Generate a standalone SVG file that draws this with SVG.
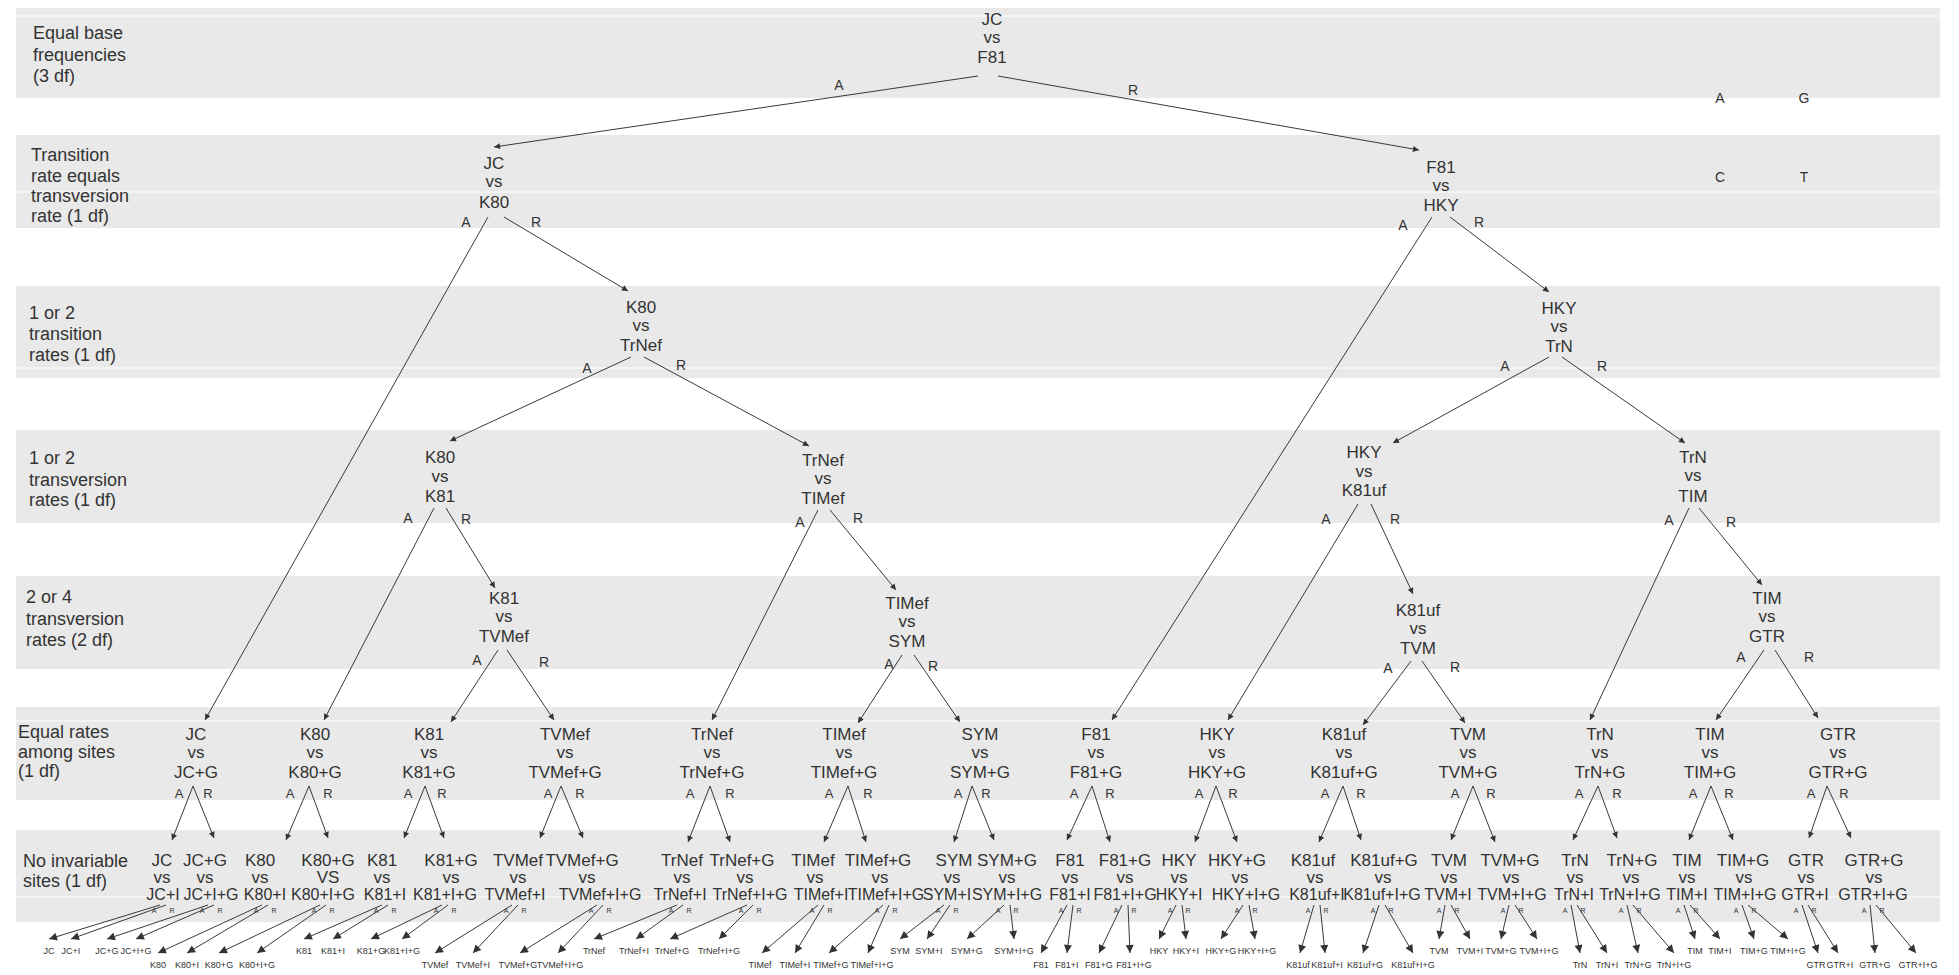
<svg xmlns="http://www.w3.org/2000/svg" width="1959" height="975" viewBox="0 0 1959 975">
<style>
text{font-family:"Liberation Sans",Arial,Helvetica,sans-serif;fill:#333}
.n{font-size:17px;text-anchor:middle}
.t{font-size:16px;text-anchor:middle}
.b{font-size:18px}
.e{font-size:14px;text-anchor:middle}
.e6{font-size:13px;text-anchor:middle}
.e7{font-size:7px;text-anchor:middle}
.f{font-size:9px;text-anchor:middle}
.band{fill:#e9e9e9}
.wl{stroke:#fff;stroke-width:1.2}
.c line{stroke:#3a3a3a;stroke-width:1;fill:none}
.c line.a{marker-end:url(#ah)}
.c line.k{marker-end:url(#ahl)}
</style>
<defs>
<marker id="ah" viewBox="0 0 10 10" refX="10" refY="5" markerWidth="7" markerHeight="6" orient="auto" markerUnits="userSpaceOnUse"><path d="M0,0L10,5L0,10z" fill="#333"/></marker>
<marker id="ahl" viewBox="0 0 10 10" refX="10" refY="5" markerWidth="9" markerHeight="8" orient="auto" markerUnits="userSpaceOnUse"><path d="M0,0L10,5L0,10z" fill="#333"/></marker>
</defs>
<rect width="1959" height="975" fill="#fff"/>
<g id="bands">
<rect class="band" x="16" y="8" width="1924" height="90"/>
<rect class="band" x="16" y="135" width="1924" height="93"/>
<rect class="band" x="16" y="286" width="1924" height="92"/>
<rect class="band" x="16" y="430" width="1924" height="93"/>
<rect class="band" x="16" y="576" width="1924" height="93"/>
<rect class="band" x="16" y="707" width="1924" height="93"/>
<rect class="band" x="16" y="830" width="1924" height="92"/>
<line class="wl" x1="16" y1="16" x2="1940" y2="16"/>
<line class="wl" x1="16" y1="192" x2="1940" y2="192"/>
<line class="wl" x1="16" y1="368" x2="1940" y2="368"/>
<line class="wl" x1="16" y1="721" x2="1940" y2="721"/>
<line class="wl" x1="16" y1="897" x2="1940" y2="897"/>
<text class="b" x="33" y="39">Equal base</text>
<text class="b" x="33" y="61">frequencies</text>
<text class="b" x="33" y="82">(3 df)</text>
<text class="b" x="31" y="161">Transition</text>
<text class="b" x="31" y="182">rate equals</text>
<text class="b" x="31" y="202">transversion</text>
<text class="b" x="31" y="222">rate (1 df)</text>
<text class="b" x="29" y="319">1 or 2</text>
<text class="b" x="29" y="340">transition</text>
<text class="b" x="29" y="361">rates (1 df)</text>
<text class="b" x="29" y="464">1 or 2</text>
<text class="b" x="29" y="486">transversion</text>
<text class="b" x="29" y="506">rates (1 df)</text>
<text class="b" x="26" y="603">2 or 4</text>
<text class="b" x="26" y="625">transversion</text>
<text class="b" x="26" y="646">rates (2 df)</text>
<text class="b" x="18" y="738">Equal rates</text>
<text class="b" x="18" y="758">among sites</text>
<text class="b" x="18" y="777">(1 df)</text>
<text class="b" x="23" y="867">No invariable</text>
<text class="b" x="23" y="887">sites (1 df)</text>
</g>
<g id="bases">
<text class="e" x="1720" y="103">A</text>
<text class="e" x="1804" y="103">G</text>
<text class="e" x="1720" y="182">C</text>
<text class="e" x="1804" y="182">T</text>
</g>
<g id="connectors" class="c">
<line class="a" x1="978" y1="76" x2="494" y2="147"/>
<line class="a" x1="998" y1="76" x2="1419" y2="150"/>
<line class="a" x1="488" y1="217" x2="205" y2="720"/>
<line class="a" x1="504" y1="217" x2="628" y2="291"/>
<line class="a" x1="1432" y1="217" x2="1112" y2="720"/>
<line class="a" x1="1450" y1="217" x2="1549" y2="292"/>
<line class="a" x1="631" y1="357" x2="450" y2="441"/>
<line class="a" x1="644" y1="357" x2="809" y2="446"/>
<line class="a" x1="1549" y1="357" x2="1393" y2="443"/>
<line class="a" x1="1562" y1="357" x2="1685" y2="443"/>
<line class="a" x1="434" y1="508" x2="324" y2="720"/>
<line class="a" x1="446" y1="508" x2="495" y2="588"/>
<line class="a" x1="818" y1="510" x2="712" y2="720"/>
<line class="a" x1="830" y1="510" x2="896" y2="590"/>
<line class="a" x1="1358" y1="504" x2="1228" y2="720"/>
<line class="a" x1="1371" y1="504" x2="1413" y2="594"/>
<line class="a" x1="1689" y1="508" x2="1590" y2="720"/>
<line class="a" x1="1699" y1="508" x2="1762" y2="585"/>
<line class="a" x1="498" y1="650" x2="451" y2="722"/>
<line class="a" x1="507" y1="650" x2="554" y2="720"/>
<line class="a" x1="902" y1="655" x2="858" y2="723"/>
<line class="a" x1="914" y1="655" x2="960" y2="722"/>
<line class="a" x1="1411" y1="661" x2="1363" y2="725"/>
<line class="a" x1="1422" y1="661" x2="1465" y2="723"/>
<line class="a" x1="1764" y1="650" x2="1716" y2="720"/>
<line class="a" x1="1775" y1="650" x2="1818" y2="718"/>
<line class="a" x1="193" y1="786" x2="172" y2="840"/><line class="a" x1="193" y1="786" x2="214" y2="838"/>
<line class="a" x1="309" y1="786" x2="286" y2="840"/><line class="a" x1="309" y1="786" x2="328" y2="838"/>
<line class="a" x1="425" y1="786" x2="404" y2="838"/><line class="a" x1="425" y1="786" x2="444" y2="838"/>
<line class="a" x1="561" y1="786" x2="540" y2="838"/><line class="a" x1="561" y1="786" x2="583" y2="838"/>
<line class="a" x1="710" y1="786" x2="688" y2="842"/><line class="a" x1="710" y1="786" x2="730" y2="842"/>
<line class="a" x1="848" y1="786" x2="824" y2="842"/><line class="a" x1="848" y1="786" x2="866" y2="842"/>
<line class="a" x1="972" y1="786" x2="954" y2="842"/><line class="a" x1="972" y1="786" x2="994" y2="840"/>
<line class="a" x1="1092" y1="786" x2="1067" y2="840"/><line class="a" x1="1092" y1="786" x2="1110" y2="842"/>
<line class="a" x1="1216" y1="786" x2="1195" y2="842"/><line class="a" x1="1216" y1="786" x2="1237" y2="842"/>
<line class="a" x1="1343" y1="786" x2="1319" y2="842"/><line class="a" x1="1343" y1="786" x2="1361" y2="840"/>
<line class="a" x1="1473" y1="786" x2="1451" y2="840"/><line class="a" x1="1473" y1="786" x2="1495" y2="842"/>
<line class="a" x1="1598" y1="786" x2="1573" y2="840"/><line class="a" x1="1598" y1="786" x2="1617" y2="838"/>
<line class="a" x1="1711" y1="786" x2="1689" y2="840"/><line class="a" x1="1711" y1="786" x2="1733" y2="840"/>
<line class="a" x1="1827" y1="786" x2="1809" y2="838"/><line class="a" x1="1827" y1="786" x2="1851" y2="838"/>
<line class="k" x1="160" y1="905" x2="49" y2="939"/><line class="k" x1="166" y1="905" x2="71" y2="939"/>
<line class="k" x1="208" y1="905" x2="107" y2="939"/><line class="k" x1="214" y1="905" x2="136" y2="939"/>
<line class="k" x1="262" y1="905" x2="158" y2="953"/><line class="k" x1="268" y1="905" x2="187" y2="953"/>
<line class="k" x1="320" y1="905" x2="219" y2="953"/><line class="k" x1="326" y1="905" x2="257" y2="953"/>
<line class="k" x1="382" y1="905" x2="304" y2="939"/><line class="k" x1="388" y1="905" x2="333" y2="939"/>
<line class="k" x1="442" y1="905" x2="371" y2="939"/><line class="k" x1="448" y1="905" x2="402" y2="939"/>
<line class="k" x1="512" y1="905" x2="435" y2="953"/><line class="k" x1="518" y1="905" x2="473" y2="953"/>
<line class="k" x1="597" y1="905" x2="520" y2="953"/><line class="k" x1="603" y1="905" x2="558" y2="953"/>
<line class="k" x1="677" y1="905" x2="594" y2="939"/><line class="k" x1="683" y1="905" x2="636" y2="939"/>
<line class="k" x1="747" y1="905" x2="670" y2="939"/><line class="k" x1="753" y1="905" x2="719" y2="939"/>
<line class="k" x1="818" y1="905" x2="762" y2="953"/><line class="k" x1="824" y1="905" x2="795" y2="953"/>
<line class="k" x1="883" y1="905" x2="829" y2="953"/><line class="k" x1="889" y1="905" x2="868" y2="953"/>
<line class="k" x1="944" y1="905" x2="900" y2="939"/><line class="k" x1="950" y1="905" x2="927" y2="939"/>
<line class="k" x1="1004" y1="905" x2="967" y2="939"/><line class="k" x1="1010" y1="905" x2="1014" y2="939"/>
<line class="k" x1="1067" y1="905" x2="1041" y2="953"/><line class="k" x1="1073" y1="905" x2="1067" y2="953"/>
<line class="k" x1="1122" y1="905" x2="1099" y2="953"/><line class="k" x1="1128" y1="905" x2="1130" y2="953"/>
<line class="k" x1="1176" y1="905" x2="1159" y2="939"/><line class="k" x1="1182" y1="905" x2="1186" y2="939"/>
<line class="k" x1="1243" y1="905" x2="1221" y2="939"/><line class="k" x1="1249" y1="905" x2="1255" y2="939"/>
<line class="k" x1="1314" y1="905" x2="1300" y2="953"/><line class="k" x1="1320" y1="905" x2="1325" y2="953"/>
<line class="k" x1="1379" y1="905" x2="1363" y2="953"/><line class="k" x1="1385" y1="905" x2="1413" y2="953"/>
<line class="k" x1="1445" y1="905" x2="1439" y2="939"/><line class="k" x1="1451" y1="905" x2="1470" y2="939"/>
<line class="k" x1="1509" y1="905" x2="1501" y2="939"/><line class="k" x1="1515" y1="905" x2="1537" y2="939"/>
<line class="k" x1="1571" y1="905" x2="1580" y2="953"/><line class="k" x1="1577" y1="905" x2="1607" y2="953"/>
<line class="k" x1="1627" y1="905" x2="1638" y2="953"/><line class="k" x1="1633" y1="905" x2="1674" y2="953"/>
<line class="k" x1="1684" y1="905" x2="1695" y2="939"/><line class="k" x1="1690" y1="905" x2="1720" y2="939"/>
<line class="k" x1="1742" y1="905" x2="1754" y2="939"/><line class="k" x1="1748" y1="905" x2="1788" y2="939"/>
<line class="k" x1="1802" y1="905" x2="1818" y2="953"/><line class="k" x1="1808" y1="905" x2="1838" y2="953"/>
<line class="k" x1="1870" y1="905" x2="1875" y2="953"/><line class="k" x1="1876" y1="905" x2="1916" y2="953"/>
<text class="e" x="839" y="90">A</text><text class="e" x="1133" y="95">R</text>
<text class="e" x="466" y="227">A</text><text class="e" x="536" y="227">R</text>
<text class="e" x="1403" y="230">A</text><text class="e" x="1479" y="227">R</text>
<text class="e" x="587" y="373">A</text><text class="e" x="681" y="370">R</text>
<text class="e" x="1505" y="371">A</text><text class="e" x="1602" y="371">R</text>
<text class="e" x="408" y="523">A</text><text class="e" x="466" y="524">R</text>
<text class="e" x="800" y="527">A</text><text class="e" x="858" y="523">R</text>
<text class="e" x="1326" y="524">A</text><text class="e" x="1395" y="524">R</text>
<text class="e" x="1669" y="525">A</text><text class="e" x="1731" y="527">R</text>
<text class="e" x="477" y="665">A</text><text class="e" x="544" y="667">R</text>
<text class="e" x="889" y="669">A</text><text class="e" x="933" y="671">R</text>
<text class="e" x="1388" y="673">A</text><text class="e" x="1455" y="672">R</text>
<text class="e" x="1741" y="662">A</text><text class="e" x="1809" y="662">R</text>
<text class="e6" x="179" y="798">A</text><text class="e6" x="208" y="798">R</text>
<text class="e6" x="290" y="798">A</text><text class="e6" x="328" y="798">R</text>
<text class="e6" x="408" y="798">A</text><text class="e6" x="442" y="798">R</text>
<text class="e6" x="548" y="798">A</text><text class="e6" x="580" y="798">R</text>
<text class="e6" x="690" y="798">A</text><text class="e6" x="730" y="798">R</text>
<text class="e6" x="829" y="798">A</text><text class="e6" x="868" y="798">R</text>
<text class="e6" x="958" y="798">A</text><text class="e6" x="986" y="798">R</text>
<text class="e6" x="1074" y="798">A</text><text class="e6" x="1110" y="798">R</text>
<text class="e6" x="1199" y="798">A</text><text class="e6" x="1233" y="798">R</text>
<text class="e6" x="1325" y="798">A</text><text class="e6" x="1361" y="798">R</text>
<text class="e6" x="1455" y="798">A</text><text class="e6" x="1491" y="798">R</text>
<text class="e6" x="1579" y="798">A</text><text class="e6" x="1617" y="798">R</text>
<text class="e6" x="1693" y="798">A</text><text class="e6" x="1729" y="798">R</text>
<text class="e6" x="1811" y="798">A</text><text class="e6" x="1844" y="798">R</text>
<text class="e7" x="154" y="913">A</text><text class="e7" x="172" y="913">R</text>
<text class="e7" x="202" y="913">A</text><text class="e7" x="220" y="913">R</text>
<text class="e7" x="256" y="913">A</text><text class="e7" x="274" y="913">R</text>
<text class="e7" x="314" y="913">A</text><text class="e7" x="332" y="913">R</text>
<text class="e7" x="376" y="913">A</text><text class="e7" x="394" y="913">R</text>
<text class="e7" x="436" y="913">A</text><text class="e7" x="454" y="913">R</text>
<text class="e7" x="506" y="913">A</text><text class="e7" x="524" y="913">R</text>
<text class="e7" x="591" y="913">A</text><text class="e7" x="609" y="913">R</text>
<text class="e7" x="671" y="913">A</text><text class="e7" x="689" y="913">R</text>
<text class="e7" x="741" y="913">A</text><text class="e7" x="759" y="913">R</text>
<text class="e7" x="812" y="913">A</text><text class="e7" x="830" y="913">R</text>
<text class="e7" x="877" y="913">A</text><text class="e7" x="895" y="913">R</text>
<text class="e7" x="938" y="913">A</text><text class="e7" x="956" y="913">R</text>
<text class="e7" x="998" y="913">A</text><text class="e7" x="1016" y="913">R</text>
<text class="e7" x="1061" y="913">A</text><text class="e7" x="1079" y="913">R</text>
<text class="e7" x="1116" y="913">A</text><text class="e7" x="1134" y="913">R</text>
<text class="e7" x="1170" y="913">A</text><text class="e7" x="1188" y="913">R</text>
<text class="e7" x="1237" y="913">A</text><text class="e7" x="1255" y="913">R</text>
<text class="e7" x="1308" y="913">A</text><text class="e7" x="1326" y="913">R</text>
<text class="e7" x="1373" y="913">A</text><text class="e7" x="1391" y="913">R</text>
<text class="e7" x="1439" y="913">A</text><text class="e7" x="1457" y="913">R</text>
<text class="e7" x="1503" y="913">A</text><text class="e7" x="1521" y="913">R</text>
<text class="e7" x="1565" y="913">A</text><text class="e7" x="1583" y="913">R</text>
<text class="e7" x="1621" y="913">A</text><text class="e7" x="1639" y="913">R</text>
<text class="e7" x="1678" y="913">A</text><text class="e7" x="1696" y="913">R</text>
<text class="e7" x="1736" y="913">A</text><text class="e7" x="1754" y="913">R</text>
<text class="e7" x="1796" y="913">A</text><text class="e7" x="1814" y="913">R</text>
<text class="e7" x="1864" y="913">A</text><text class="e7" x="1882" y="913">R</text>
</g>
<g id="n-jc-f81"><text class="n" x="992" y="25">JC</text><text class="n" x="992" y="43">vs</text><text class="n" x="992" y="63">F81</text></g>
<g id="n-jc-k80"><text class="n" x="494" y="169">JC</text><text class="n" x="494" y="187">vs</text><text class="n" x="494" y="208">K80</text></g>
<g id="n-f81-hky"><text class="n" x="1441" y="173">F81</text><text class="n" x="1441" y="191">vs</text><text class="n" x="1441" y="211">HKY</text></g>
<g id="n-k80-trnef"><text class="n" x="641" y="313">K80</text><text class="n" x="641" y="331">vs</text><text class="n" x="641" y="351">TrNef</text></g>
<g id="n-hky-trn"><text class="n" x="1559" y="314">HKY</text><text class="n" x="1559" y="332">vs</text><text class="n" x="1559" y="352">TrN</text></g>
<g id="n-k80-k81"><text class="n" x="440" y="463">K80</text><text class="n" x="440" y="482">vs</text><text class="n" x="440" y="502">K81</text></g>
<g id="n-trnef-timef"><text class="n" x="823" y="466">TrNef</text><text class="n" x="823" y="484">vs</text><text class="n" x="823" y="504">TIMef</text></g>
<g id="n-hky-k81uf"><text class="n" x="1364" y="458">HKY</text><text class="n" x="1364" y="477">vs</text><text class="n" x="1364" y="496">K81uf</text></g>
<g id="n-trn-tim"><text class="n" x="1693" y="463">TrN</text><text class="n" x="1693" y="481">vs</text><text class="n" x="1693" y="502">TIM</text></g>
<g id="n-k81-tvmef"><text class="n" x="504" y="604">K81</text><text class="n" x="504" y="622">vs</text><text class="n" x="504" y="642">TVMef</text></g>
<g id="n-timef-sym"><text class="n" x="907" y="609">TIMef</text><text class="n" x="907" y="627">vs</text><text class="n" x="907" y="647">SYM</text></g>
<g id="n-k81uf-tvm"><text class="n" x="1418" y="616">K81uf</text><text class="n" x="1418" y="634">vs</text><text class="n" x="1418" y="654">TVM</text></g>
<g id="n-tim-gtr"><text class="n" x="1767" y="604">TIM</text><text class="n" x="1767" y="622">vs</text><text class="n" x="1767" y="642">GTR</text></g>
<g id="n6-jc"><text class="n" x="196" y="740">JC</text><text class="n" x="196" y="758">vs</text><text class="n" x="196" y="778">JC+G</text></g>
<g id="n6-k80"><text class="n" x="315" y="740">K80</text><text class="n" x="315" y="758">vs</text><text class="n" x="315" y="778">K80+G</text></g>
<g id="n6-k81"><text class="n" x="429" y="740">K81</text><text class="n" x="429" y="758">vs</text><text class="n" x="429" y="778">K81+G</text></g>
<g id="n6-tvmef"><text class="n" x="565" y="740">TVMef</text><text class="n" x="565" y="758">vs</text><text class="n" x="565" y="778">TVMef+G</text></g>
<g id="n6-trnef"><text class="n" x="712" y="740">TrNef</text><text class="n" x="712" y="758">vs</text><text class="n" x="712" y="778">TrNef+G</text></g>
<g id="n6-timef"><text class="n" x="844" y="740">TIMef</text><text class="n" x="844" y="758">vs</text><text class="n" x="844" y="778">TIMef+G</text></g>
<g id="n6-sym"><text class="n" x="980" y="740">SYM</text><text class="n" x="980" y="758">vs</text><text class="n" x="980" y="778">SYM+G</text></g>
<g id="n6-f81"><text class="n" x="1096" y="740">F81</text><text class="n" x="1096" y="758">vs</text><text class="n" x="1096" y="778">F81+G</text></g>
<g id="n6-hky"><text class="n" x="1217" y="740">HKY</text><text class="n" x="1217" y="758">vs</text><text class="n" x="1217" y="778">HKY+G</text></g>
<g id="n6-k81uf"><text class="n" x="1344" y="740">K81uf</text><text class="n" x="1344" y="758">vs</text><text class="n" x="1344" y="778">K81uf+G</text></g>
<g id="n6-tvm"><text class="n" x="1468" y="740">TVM</text><text class="n" x="1468" y="758">vs</text><text class="n" x="1468" y="778">TVM+G</text></g>
<g id="n6-trn"><text class="n" x="1600" y="740">TrN</text><text class="n" x="1600" y="758">vs</text><text class="n" x="1600" y="778">TrN+G</text></g>
<g id="n6-tim"><text class="n" x="1710" y="740">TIM</text><text class="n" x="1710" y="758">vs</text><text class="n" x="1710" y="778">TIM+G</text></g>
<g id="n6-gtr"><text class="n" x="1838" y="740">GTR</text><text class="n" x="1838" y="758">vs</text><text class="n" x="1838" y="778">GTR+G</text></g>
<g id="n7-jc"><text class="n" x="162" y="866">JC</text><text class="n" x="162" y="883">vs</text><text class="t" x="163" y="900">JC+I</text></g>
<g id="n7-jcg"><text class="n" x="205" y="866">JC+G</text><text class="n" x="205" y="883">vs</text><text class="t" x="211" y="900">JC+I+G</text></g>
<g id="n7-k80"><text class="n" x="260" y="866">K80</text><text class="n" x="260" y="883">vs</text><text class="t" x="265" y="900">K80+I</text></g>
<g id="n7-k80g"><text class="n" x="328" y="866">K80+G</text><text class="n" x="328" y="883">VS</text><text class="t" x="323" y="900">K80+I+G</text></g>
<g id="n7-k81"><text class="n" x="382" y="866">K81</text><text class="n" x="382" y="883">vs</text><text class="t" x="385" y="900">K81+I</text></g>
<g id="n7-k81g"><text class="n" x="451" y="866">K81+G</text><text class="n" x="451" y="883">vs</text><text class="t" x="445" y="900">K81+I+G</text></g>
<g id="n7-tvmef"><text class="n" x="518" y="866">TVMef</text><text class="n" x="518" y="883">vs</text><text class="t" x="515" y="900">TVMef+I</text></g>
<g id="n7-tvmefg"><text class="n" x="582" y="866">TVMef+G</text><text class="n" x="587" y="883">vs</text><text class="t" x="600" y="900">TVMef+I+G</text></g>
<g id="n7-trnef"><text class="n" x="682" y="866">TrNef</text><text class="n" x="682" y="883">vs</text><text class="t" x="680" y="900">TrNef+I</text></g>
<g id="n7-trnefg"><text class="n" x="742" y="866">TrNef+G</text><text class="n" x="745" y="883">vs</text><text class="t" x="750" y="900">TrNef+I+G</text></g>
<g id="n7-timef"><text class="n" x="813" y="866">TIMef</text><text class="n" x="815" y="883">vs</text><text class="t" x="821" y="900">TIMef+I</text></g>
<g id="n7-timefg"><text class="n" x="878" y="866">TIMef+G</text><text class="n" x="880" y="883">vs</text><text class="t" x="886" y="900">TIMef+I+G</text></g>
<g id="n7-sym"><text class="n" x="954" y="866">SYM</text><text class="n" x="952" y="883">vs</text><text class="t" x="947" y="900">SYM+I</text></g>
<g id="n7-symg"><text class="n" x="1007" y="866">SYM+G</text><text class="n" x="1007" y="883">vs</text><text class="t" x="1007" y="900">SYM+I+G</text></g>
<g id="n7-f81"><text class="n" x="1070" y="866">F81</text><text class="n" x="1070" y="883">vs</text><text class="t" x="1070" y="900">F81+I</text></g>
<g id="n7-f81g"><text class="n" x="1125" y="866">F81+G</text><text class="n" x="1125" y="883">vs</text><text class="t" x="1125" y="900">F81+I+G</text></g>
<g id="n7-hky"><text class="n" x="1179" y="866">HKY</text><text class="n" x="1179" y="883">vs</text><text class="t" x="1179" y="900">HKY+I</text></g>
<g id="n7-hkyg"><text class="n" x="1237" y="866">HKY+G</text><text class="n" x="1240" y="883">vs</text><text class="t" x="1246" y="900">HKY+I+G</text></g>
<g id="n7-k81uf"><text class="n" x="1313" y="866">K81uf</text><text class="n" x="1315" y="883">vs</text><text class="t" x="1317" y="900">K81uf+I</text></g>
<g id="n7-k81ufg"><text class="n" x="1384" y="866">K81uf+G</text><text class="n" x="1383" y="883">vs</text><text class="t" x="1382" y="900">K81uf+I+G</text></g>
<g id="n7-tvm"><text class="n" x="1449" y="866">TVM</text><text class="n" x="1449" y="883">vs</text><text class="t" x="1448" y="900">TVM+I</text></g>
<g id="n7-tvmg"><text class="n" x="1510" y="866">TVM+G</text><text class="n" x="1511" y="883">vs</text><text class="t" x="1512" y="900">TVM+I+G</text></g>
<g id="n7-trn"><text class="n" x="1575" y="866">TrN</text><text class="n" x="1575" y="883">vs</text><text class="t" x="1574" y="900">TrN+I</text></g>
<g id="n7-trng"><text class="n" x="1632" y="866">TrN+G</text><text class="n" x="1631" y="883">vs</text><text class="t" x="1630" y="900">TrN+I+G</text></g>
<g id="n7-tim"><text class="n" x="1687" y="866">TIM</text><text class="n" x="1687" y="883">vs</text><text class="t" x="1687" y="900">TIM+I</text></g>
<g id="n7-timg"><text class="n" x="1743" y="866">TIM+G</text><text class="n" x="1744" y="883">vs</text><text class="t" x="1745" y="900">TIM+I+G</text></g>
<g id="n7-gtr"><text class="n" x="1806" y="866">GTR</text><text class="n" x="1806" y="883">vs</text><text class="t" x="1805" y="900">GTR+I</text></g>
<g id="n7-gtrg"><text class="n" x="1874" y="866">GTR+G</text><text class="n" x="1874" y="883">vs</text><text class="t" x="1873" y="900">GTR+I+G</text></g>
<g id="leaves">
<g id="l-jc"><text class="f" x="49" y="954">JC</text></g><g id="l-jci"><text class="f" x="71" y="954">JC+I</text></g><g id="l-jcg"><text class="f" x="107" y="954">JC+G</text></g><g id="l-jcig"><text class="f" x="136" y="954">JC+I+G</text></g>
<g id="l-k80"><text class="f" x="158" y="968">K80</text></g><g id="l-k80i"><text class="f" x="187" y="968">K80+I</text></g><g id="l-k80g"><text class="f" x="219" y="968">K80+G</text></g><g id="l-k80ig"><text class="f" x="257" y="968">K80+I+G</text></g>
<g id="l-k81"><text class="f" x="304" y="954">K81</text></g><g id="l-k81i"><text class="f" x="333" y="954">K81+I</text></g><g id="l-k81g"><text class="f" x="371" y="954">K81+G</text></g><g id="l-k81ig"><text class="f" x="402" y="954">K81+I+G</text></g>
<g id="l-tvmef"><text class="f" x="435" y="968">TVMef</text></g><g id="l-tvmefi"><text class="f" x="473" y="968">TVMef+I</text></g><g id="l-tvmefg"><text class="f" x="518" y="968">TVMef+G</text></g><g id="l-tvmefig"><text class="f" x="560" y="968">TVMef+I+G</text></g>
<g id="l-trnef"><text class="f" x="594" y="954">TrNef</text></g><g id="l-trnefi"><text class="f" x="634" y="954">TrNef+I</text></g><g id="l-trnefg"><text class="f" x="672" y="954">TrNef+G</text></g><g id="l-trnefig"><text class="f" x="719" y="954">TrNef+I+G</text></g>
<g id="l-timef"><text class="f" x="760" y="968">TIMef</text></g><g id="l-timefi"><text class="f" x="795" y="968">TIMef+I</text></g><g id="l-timefg"><text class="f" x="831" y="968">TIMef+G</text></g><g id="l-timefig"><text class="f" x="872" y="968">TIMef+I+G</text></g>
<g id="l-sym"><text class="f" x="900" y="954">SYM</text></g><g id="l-symi"><text class="f" x="929" y="954">SYM+I</text></g><g id="l-symg"><text class="f" x="967" y="954">SYM+G</text></g><g id="l-symig"><text class="f" x="1014" y="954">SYM+I+G</text></g>
<g id="l-f81"><text class="f" x="1041" y="968">F81</text></g><g id="l-f81i"><text class="f" x="1067" y="968">F81+I</text></g><g id="l-f81g"><text class="f" x="1099" y="968">F81+G</text></g><g id="l-f81ig"><text class="f" x="1134" y="968">F81+I+G</text></g>
<g id="l-hky"><text class="f" x="1159" y="954">HKY</text></g><g id="l-hkyi"><text class="f" x="1186" y="954">HKY+I</text></g><g id="l-hkyg"><text class="f" x="1221" y="954">HKY+G</text></g><g id="l-hkyig"><text class="f" x="1257" y="954">HKY+I+G</text></g>
<g id="l-k81uf"><text class="f" x="1298" y="968">K81uf</text></g><g id="l-k81ufi"><text class="f" x="1327" y="968">K81uf+I</text></g><g id="l-k81ufg"><text class="f" x="1365" y="968">K81uf+G</text></g><g id="l-k81ufig"><text class="f" x="1413" y="968">K81uf+I+G</text></g>
<g id="l-tvm"><text class="f" x="1439" y="954">TVM</text></g><g id="l-tvmi"><text class="f" x="1470" y="954">TVM+I</text></g><g id="l-tvmg"><text class="f" x="1501" y="954">TVM+G</text></g><g id="l-tvmig"><text class="f" x="1539" y="954">TVM+I+G</text></g>
<g id="l-trn"><text class="f" x="1580" y="968">TrN</text></g><g id="l-trni"><text class="f" x="1607" y="968">TrN+I</text></g><g id="l-trng"><text class="f" x="1638" y="968">TrN+G</text></g><g id="l-trnig"><text class="f" x="1674" y="968">TrN+I+G</text></g>
<g id="l-tim"><text class="f" x="1695" y="954">TIM</text></g><g id="l-timi"><text class="f" x="1720" y="954">TIM+I</text></g><g id="l-timg"><text class="f" x="1754" y="954">TIM+G</text></g><g id="l-timig"><text class="f" x="1788" y="954">TIM+I+G</text></g>
<g id="l-gtr"><text class="f" x="1816" y="968">GTR</text></g><g id="l-gtri"><text class="f" x="1840" y="968">GTR+I</text></g><g id="l-gtrg"><text class="f" x="1875" y="968">GTR+G</text></g><g id="l-gtrig"><text class="f" x="1918" y="968">GTR+I+G</text></g>
</g>
</svg>
